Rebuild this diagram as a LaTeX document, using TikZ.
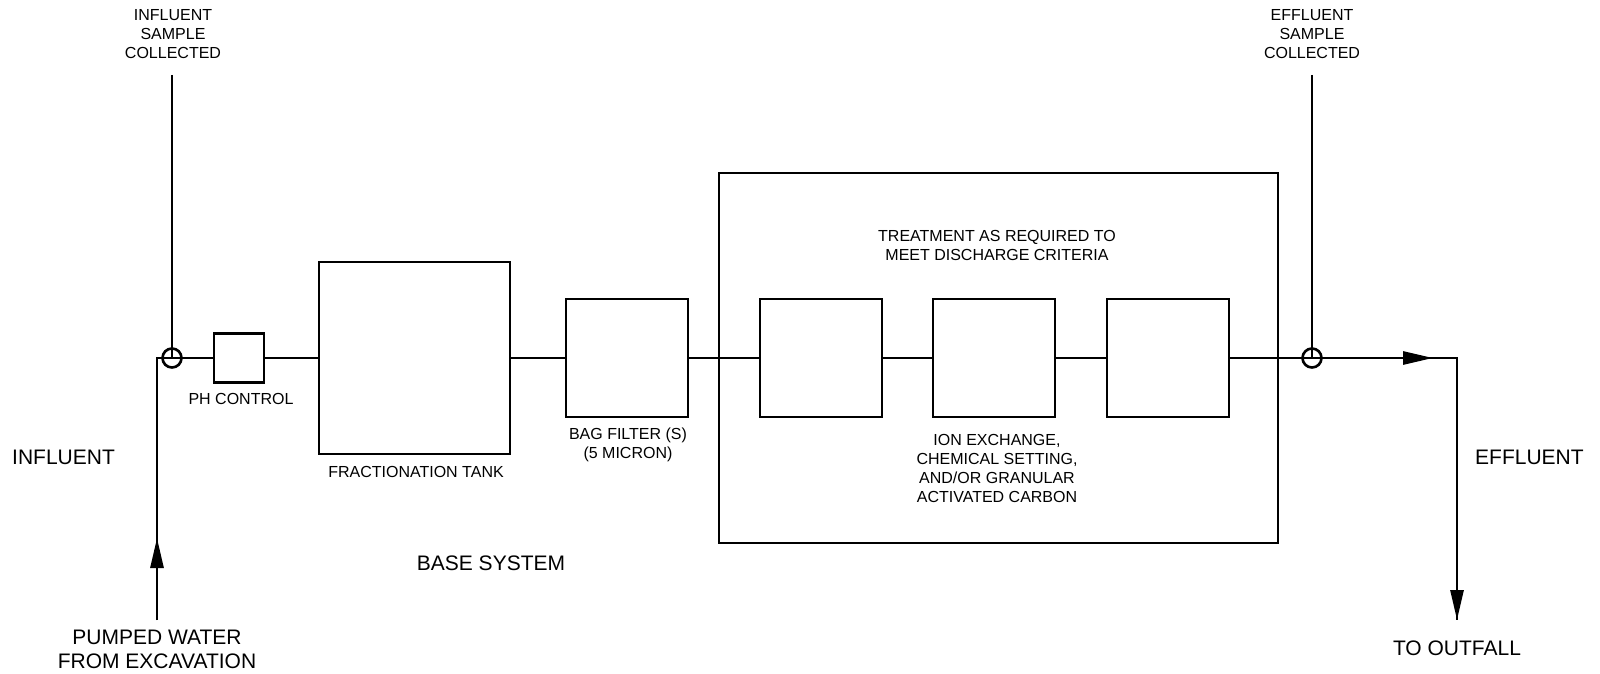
\documentclass[tikz,border=0pt]{standalone}
\usepackage{fontspec}
\setmainfont{Liberation Sans}
\usetikzlibrary{arrows.meta}
\tikzset{
  unit/.style={draw, line width=2.8pt, rectangle, inner sep=0pt},
  tap/.style={draw, line width=2.6pt, circle, inner sep=0pt, minimum size=19pt},
  pipe/.style={line width=2.8pt},
  flowtip/.style={-{Triangle[length=30pt,width=13pt]}},
  smalltxt/.style={align=center, inner sep=0pt, font=\fontsize{16}{19}\selectfont},
  bigtxt/.style={align=center, inner sep=0pt, font=\fontsize{21}{24}\selectfont},
}
\begin{document}
\begin{tikzpicture}[x=1pt,y=-1pt]
\useasboundingbox (0,0) rectangle (1600,674);
% units
\node[unit, minimum width=50pt, minimum height=49pt] (ph) at (239,358) {};
\node[unit, minimum width=191pt, minimum height=192pt] (frac) at (414.5,358) {};
\node[unit, minimum width=122pt, minimum height=118pt] (bag) at (627,358) {};
\node[unit, minimum width=559pt, minimum height=370pt] (treat) at (998.5,358) {};
\node[unit, minimum width=122pt, minimum height=118pt] (b1) at (821,358) {};
\node[unit, minimum width=122pt, minimum height=118pt] (b2) at (994,358) {};
\node[unit, minimum width=122pt, minimum height=118pt] (b3) at (1168,358) {};
% sample taps
\node[tap] (inf) at (172,358) {};
\node[tap] (eff) at (1312,358) {};
% free ends
\coordinate (infstart) at (157,620);
\coordinate (inftip) at (157,538);
\coordinate (infcorner) at (157,358);
\coordinate (infsamp) at (172,75);
\coordinate (effsamp) at (1312,75);
\coordinate (efftip) at (1433,358);
\coordinate (effcorner) at (1457,358);
\coordinate (effend) at (1457,620);
% connectors
\draw[pipe] (infstart) -- (infcorner) -- (inf.center);
\draw[pipe, flowtip] (infstart) -- (inftip);
\draw[pipe] (infsamp) -- (inf.center);
\draw[pipe] (inf.center) -- (ph.west);
\draw[pipe] (ph.east) -- (frac.west);
\draw[pipe] (frac.east) -- (bag.west);
\draw[pipe] (bag.east) -- (b1.west);
\draw[pipe] (b1.east) -- (b2.west);
\draw[pipe] (b2.east) -- (b3.west);
\draw[pipe] (b3.east) -- (eff.center);
\draw[pipe] (effsamp) -- (eff.center);
\draw[pipe] (eff.center) -- (effcorner) -- (effend);
\draw[pipe, flowtip] (eff.center) -- (efftip);
\draw[pipe, flowtip] (effcorner) -- (effend);
% labels
\node[smalltxt] (tinsamp) at (173,34) {INFLUENT\\SAMPLE\\COLLECTED};
\node[smalltxt] (teffsamp) at (1312,34) {EFFLUENT\\SAMPLE\\COLLECTED};
\node[smalltxt] (tph) at (241,399) {PH CONTROL};
\node[smalltxt] (tfrac) at (416,472) {FRACTIONATION TANK};
\node[smalltxt] (tbag) at (628,445) {BAG FILTER (S)\\(5 MICRON)};
\node[smalltxt] (ttreat) at (997,245) {TREATMENT AS REQUIRED TO\\MEET DISCHARGE CRITERIA};
\node[smalltxt] (tion) at (997,468) {ION EXCHANGE,\\CHEMICAL SETTING,\\AND/OR GRANULAR\\ACTIVATED CARBON};
\node[bigtxt] (tbase) at (491,563) {BASE SYSTEM};
\node[bigtxt, anchor=west] (tinfl) at (12,457) {INFLUENT};
\node[bigtxt, anchor=west] (teffl) at (1475,457) {EFFLUENT};
\node[bigtxt] (tpump) at (157,649) {PUMPED WATER\\FROM EXCAVATION};
\node[bigtxt] (tout) at (1457,648) {TO OUTFALL};
\end{tikzpicture}
\end{document}
